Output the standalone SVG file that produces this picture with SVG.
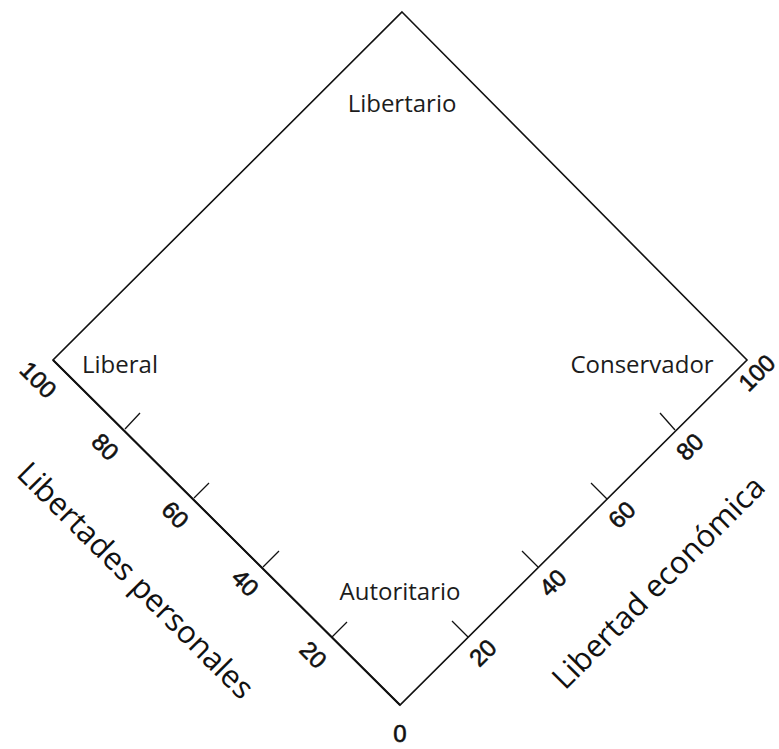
<svg xmlns="http://www.w3.org/2000/svg" width="779" height="749" viewBox="0 0 779 749">
<style>
.edge{fill:none;stroke:#111;stroke-width:1.6;stroke-linejoin:miter}
.tick{stroke:#111;stroke-width:1.3}
.num{font-family:"Liberation Sans",Arial,sans-serif;font-size:24px;fill:#111;stroke:#111;stroke-width:0.6;text-anchor:middle}
.lab{font-family:"Open Sans","Liberation Sans",sans-serif;font-size:24px;fill:#1c1c1c;text-anchor:middle}
.axis{font-family:"Open Sans","Liberation Sans",sans-serif;font-size:31px;fill:#111;text-anchor:middle}
</style>
<rect width="779" height="749" fill="#fff"/>
<g id="connectors">
  <polygon class="edge" points="402,12 747,360 400,705 53,360"/>
  <line class="edge" x1="53" y1="360" x2="400" y2="705" style="stroke-width:2"/>
  <line class="tick" x1="125" y1="429" x2="140" y2="413"/>
  <line class="tick" x1="194" y1="498" x2="209" y2="483"/>
  <line class="tick" x1="263" y1="567" x2="279" y2="551"/>
  <line class="tick" x1="332" y1="637" x2="347" y2="622"/>
  <line class="tick" x1="468" y1="637" x2="452" y2="621"/>
  <line class="tick" x1="538" y1="567" x2="522" y2="551"/>
  <line class="tick" x1="607" y1="499" x2="591" y2="483"/>
  <line class="tick" x1="675" y1="430" x2="660" y2="413"/>
</g>
<g id="left-scale">
  <text class="num" transform="translate(38,380) rotate(45)" y="8">100</text>
  <text class="num" transform="translate(105,447) rotate(45)" y="8">80</text>
  <text class="num" transform="translate(175,515) rotate(45)" y="8">60</text>
  <text class="num" transform="translate(245,583) rotate(45)" y="8">40</text>
  <text class="num" transform="translate(313,655) rotate(45)" y="8">20</text>
</g>
<g id="right-scale">
  <text class="num" transform="translate(757,373) rotate(-45)" y="8">100</text>
  <text class="num" transform="translate(690,447) rotate(-45)" y="8">80</text>
  <text class="num" transform="translate(622,515) rotate(-45)" y="8">60</text>
  <text class="num" transform="translate(553,583) rotate(-45)" y="8">40</text>
  <text class="num" transform="translate(483,653) rotate(-45)" y="8">20</text>
</g>
<g id="zero"><text class="num" x="400" y="742">0</text></g>
<g id="libertario"><text class="lab" x="402" y="112">Libertario</text></g>
<g id="liberal"><text class="lab" x="120" y="373">Liberal</text></g>
<g id="conservador"><text class="lab" x="642" y="373">Conservador</text></g>
<g id="autoritario"><text class="lab" x="400" y="600">Autoritario</text></g>
<g id="libertades-personales"><text class="axis" transform="translate(128,588) rotate(45)">Libertades personales</text></g>
<g id="libertad-economica"><text class="axis" transform="translate(666,590) rotate(-45)">Libertad económica</text></g>
</svg>
